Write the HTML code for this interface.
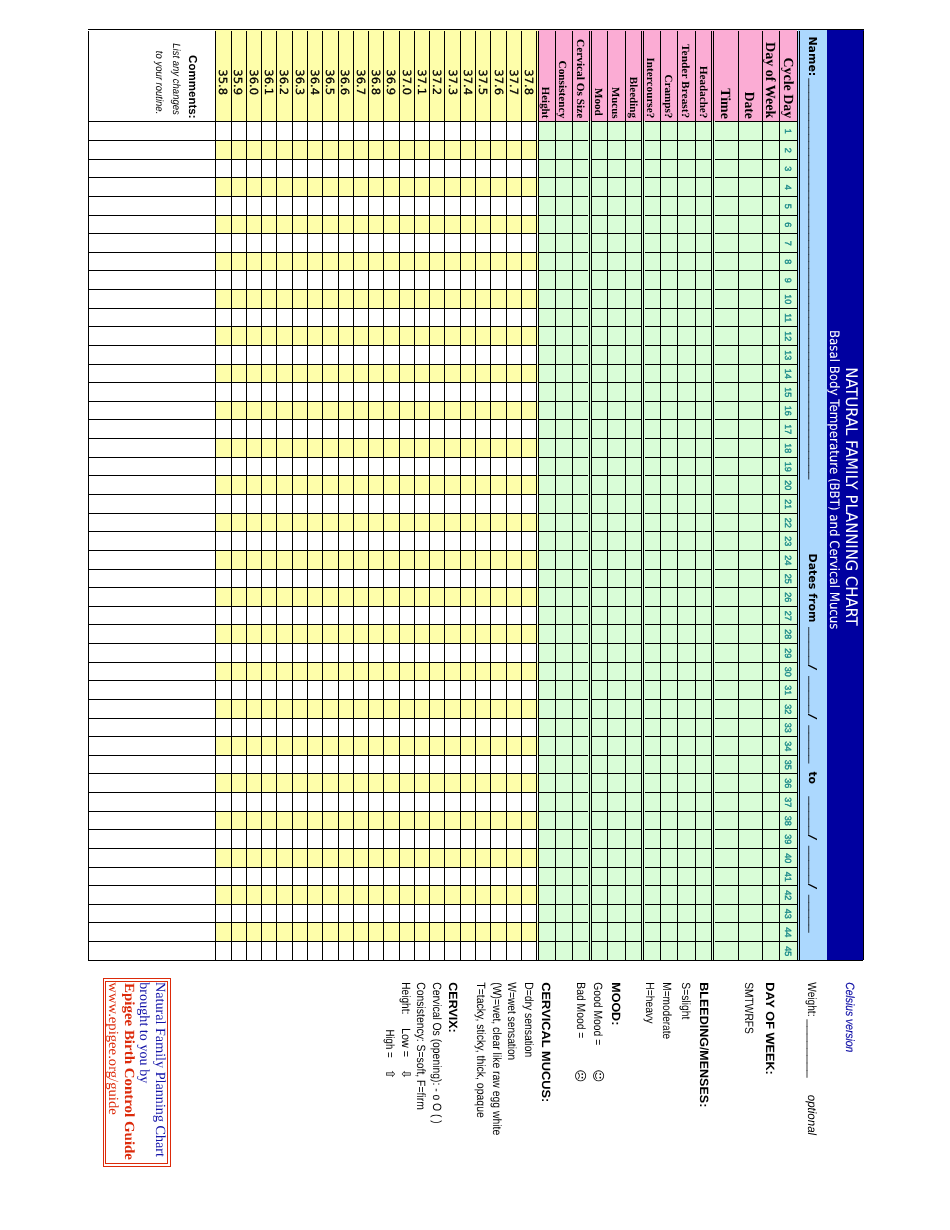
<!DOCTYPE html>
<html><head><meta charset="utf-8"><title>Natural Family Planning Chart</title>
<style>html,body{margin:0;padding:0;background:#fff}svg{display:block}text{white-space:pre}</style></head>
<body><svg width="950" height="1230" viewBox="0 0 950 1230" shape-rendering="crispEdges" text-rendering="geometricPrecision">
<rect x="827" y="29" width="37" height="931" fill="#0000a0"/>
<rect x="798" y="29" width="29" height="931" fill="#acd8fe"/>
<rect x="538" y="29" width="259" height="92" fill="#fbacd4"/>
<rect x="539" y="121" width="258" height="839" fill="#d9fdd7"/>
<rect x="215" y="29" width="323" height="92" fill="#fefeaa"/>
<rect x="215" y="140" width="323" height="19" fill="#fefeaa"/>
<rect x="215" y="177" width="323" height="19" fill="#fefeaa"/>
<rect x="215" y="215" width="323" height="18" fill="#fefeaa"/>
<rect x="215" y="252" width="323" height="18" fill="#fefeaa"/>
<rect x="215" y="289" width="323" height="19" fill="#fefeaa"/>
<rect x="215" y="326" width="323" height="19" fill="#fefeaa"/>
<rect x="215" y="364" width="323" height="18" fill="#fefeaa"/>
<rect x="215" y="401" width="323" height="18" fill="#fefeaa"/>
<rect x="215" y="438" width="323" height="19" fill="#fefeaa"/>
<rect x="215" y="475" width="323" height="19" fill="#fefeaa"/>
<rect x="215" y="513" width="323" height="18" fill="#fefeaa"/>
<rect x="215" y="550" width="323" height="19" fill="#fefeaa"/>
<rect x="215" y="587" width="323" height="19" fill="#fefeaa"/>
<rect x="215" y="624" width="323" height="19" fill="#fefeaa"/>
<rect x="215" y="662" width="323" height="18" fill="#fefeaa"/>
<rect x="215" y="699" width="323" height="19" fill="#fefeaa"/>
<rect x="215" y="736" width="323" height="19" fill="#fefeaa"/>
<rect x="215" y="773" width="323" height="19" fill="#fefeaa"/>
<rect x="215" y="811" width="323" height="18" fill="#fefeaa"/>
<rect x="215" y="848" width="323" height="19" fill="#fefeaa"/>
<rect x="215" y="885" width="323" height="19" fill="#fefeaa"/>
<rect x="215" y="922" width="323" height="19" fill="#fefeaa"/>
<rect x="88" y="31" width="1" height="929" fill="#000"/>
<rect x="215" y="31" width="1" height="929" fill="#000"/>
<rect x="231" y="31" width="1" height="929" fill="#000"/>
<rect x="246" y="31" width="1" height="929" fill="#000"/>
<rect x="261" y="31" width="1" height="929" fill="#000"/>
<rect x="276" y="31" width="1" height="929" fill="#000"/>
<rect x="292" y="31" width="1" height="929" fill="#000"/>
<rect x="307" y="31" width="1" height="929" fill="#000"/>
<rect x="322" y="31" width="1" height="929" fill="#000"/>
<rect x="338" y="31" width="1" height="929" fill="#000"/>
<rect x="353" y="31" width="1" height="929" fill="#000"/>
<rect x="368" y="31" width="1" height="929" fill="#000"/>
<rect x="383" y="31" width="1" height="929" fill="#000"/>
<rect x="399" y="31" width="1" height="929" fill="#000"/>
<rect x="414" y="31" width="1" height="929" fill="#000"/>
<rect x="429" y="31" width="1" height="929" fill="#000"/>
<rect x="444" y="31" width="1" height="929" fill="#000"/>
<rect x="460" y="31" width="1" height="929" fill="#000"/>
<rect x="475" y="31" width="1" height="929" fill="#000"/>
<rect x="490" y="31" width="1" height="929" fill="#000"/>
<rect x="506" y="31" width="1" height="929" fill="#000"/>
<rect x="521" y="31" width="1" height="929" fill="#000"/>
<rect x="555" y="31" width="1" height="929" fill="#000"/>
<rect x="572" y="31" width="1" height="929" fill="#000"/>
<rect x="607" y="31" width="1" height="929" fill="#000"/>
<rect x="625" y="31" width="1" height="929" fill="#000"/>
<rect x="660" y="31" width="1" height="929" fill="#000"/>
<rect x="677" y="31" width="1" height="929" fill="#000"/>
<rect x="695" y="31" width="1" height="929" fill="#000"/>
<rect x="738" y="31" width="1" height="929" fill="#000"/>
<rect x="762" y="31" width="1" height="929" fill="#000"/>
<rect x="779" y="31" width="1" height="929" fill="#000"/>
<rect x="536" y="31" width="1" height="929" fill="#000"/>
<rect x="538" y="31" width="1" height="929" fill="#000"/>
<rect x="589" y="31" width="1" height="929" fill="#000"/>
<rect x="591" y="31" width="1" height="929" fill="#000"/>
<rect x="641" y="31" width="1" height="929" fill="#000"/>
<rect x="643" y="31" width="1" height="929" fill="#000"/>
<rect x="711" y="31" width="1" height="929" fill="#000"/>
<rect x="713" y="31" width="1" height="929" fill="#000"/>
<rect x="797" y="31" width="1" height="929" fill="#000"/>
<rect x="799" y="31" width="1" height="929" fill="#000"/>
<rect x="88" y="121" width="448" height="1" fill="#000"/>
<rect x="539" y="121" width="49" height="1" fill="#000"/>
<rect x="592" y="121" width="49" height="1" fill="#000"/>
<rect x="645" y="121" width="66" height="1" fill="#000"/>
<rect x="715" y="121" width="82" height="1" fill="#000"/>
<rect x="88" y="140" width="448" height="1" fill="#000"/>
<rect x="539" y="140" width="49" height="1" fill="#000"/>
<rect x="592" y="140" width="49" height="1" fill="#000"/>
<rect x="645" y="140" width="66" height="1" fill="#000"/>
<rect x="715" y="140" width="82" height="1" fill="#000"/>
<rect x="88" y="159" width="448" height="1" fill="#000"/>
<rect x="539" y="159" width="49" height="1" fill="#000"/>
<rect x="592" y="159" width="49" height="1" fill="#000"/>
<rect x="645" y="159" width="66" height="1" fill="#000"/>
<rect x="715" y="159" width="82" height="1" fill="#000"/>
<rect x="88" y="177" width="448" height="1" fill="#000"/>
<rect x="539" y="177" width="49" height="1" fill="#000"/>
<rect x="592" y="177" width="49" height="1" fill="#000"/>
<rect x="645" y="177" width="66" height="1" fill="#000"/>
<rect x="715" y="177" width="82" height="1" fill="#000"/>
<rect x="88" y="196" width="448" height="1" fill="#000"/>
<rect x="539" y="196" width="49" height="1" fill="#000"/>
<rect x="592" y="196" width="49" height="1" fill="#000"/>
<rect x="645" y="196" width="66" height="1" fill="#000"/>
<rect x="715" y="196" width="82" height="1" fill="#000"/>
<rect x="88" y="215" width="448" height="1" fill="#000"/>
<rect x="539" y="215" width="49" height="1" fill="#000"/>
<rect x="592" y="215" width="49" height="1" fill="#000"/>
<rect x="645" y="215" width="66" height="1" fill="#000"/>
<rect x="715" y="215" width="82" height="1" fill="#000"/>
<rect x="88" y="233" width="448" height="1" fill="#000"/>
<rect x="539" y="233" width="49" height="1" fill="#000"/>
<rect x="592" y="233" width="49" height="1" fill="#000"/>
<rect x="645" y="233" width="66" height="1" fill="#000"/>
<rect x="715" y="233" width="82" height="1" fill="#000"/>
<rect x="88" y="252" width="448" height="1" fill="#000"/>
<rect x="539" y="252" width="49" height="1" fill="#000"/>
<rect x="592" y="252" width="49" height="1" fill="#000"/>
<rect x="645" y="252" width="66" height="1" fill="#000"/>
<rect x="715" y="252" width="82" height="1" fill="#000"/>
<rect x="88" y="270" width="448" height="1" fill="#000"/>
<rect x="539" y="270" width="49" height="1" fill="#000"/>
<rect x="592" y="270" width="49" height="1" fill="#000"/>
<rect x="645" y="270" width="66" height="1" fill="#000"/>
<rect x="715" y="270" width="82" height="1" fill="#000"/>
<rect x="88" y="289" width="448" height="1" fill="#000"/>
<rect x="539" y="289" width="49" height="1" fill="#000"/>
<rect x="592" y="289" width="49" height="1" fill="#000"/>
<rect x="645" y="289" width="66" height="1" fill="#000"/>
<rect x="715" y="289" width="82" height="1" fill="#000"/>
<rect x="88" y="308" width="448" height="1" fill="#000"/>
<rect x="539" y="308" width="49" height="1" fill="#000"/>
<rect x="592" y="308" width="49" height="1" fill="#000"/>
<rect x="645" y="308" width="66" height="1" fill="#000"/>
<rect x="715" y="308" width="82" height="1" fill="#000"/>
<rect x="88" y="326" width="448" height="1" fill="#000"/>
<rect x="539" y="326" width="49" height="1" fill="#000"/>
<rect x="592" y="326" width="49" height="1" fill="#000"/>
<rect x="645" y="326" width="66" height="1" fill="#000"/>
<rect x="715" y="326" width="82" height="1" fill="#000"/>
<rect x="88" y="345" width="448" height="1" fill="#000"/>
<rect x="539" y="345" width="49" height="1" fill="#000"/>
<rect x="592" y="345" width="49" height="1" fill="#000"/>
<rect x="645" y="345" width="66" height="1" fill="#000"/>
<rect x="715" y="345" width="82" height="1" fill="#000"/>
<rect x="88" y="364" width="448" height="1" fill="#000"/>
<rect x="539" y="364" width="49" height="1" fill="#000"/>
<rect x="592" y="364" width="49" height="1" fill="#000"/>
<rect x="645" y="364" width="66" height="1" fill="#000"/>
<rect x="715" y="364" width="82" height="1" fill="#000"/>
<rect x="88" y="382" width="448" height="1" fill="#000"/>
<rect x="539" y="382" width="49" height="1" fill="#000"/>
<rect x="592" y="382" width="49" height="1" fill="#000"/>
<rect x="645" y="382" width="66" height="1" fill="#000"/>
<rect x="715" y="382" width="82" height="1" fill="#000"/>
<rect x="88" y="401" width="448" height="1" fill="#000"/>
<rect x="539" y="401" width="49" height="1" fill="#000"/>
<rect x="592" y="401" width="49" height="1" fill="#000"/>
<rect x="645" y="401" width="66" height="1" fill="#000"/>
<rect x="715" y="401" width="82" height="1" fill="#000"/>
<rect x="88" y="419" width="448" height="1" fill="#000"/>
<rect x="539" y="419" width="49" height="1" fill="#000"/>
<rect x="592" y="419" width="49" height="1" fill="#000"/>
<rect x="645" y="419" width="66" height="1" fill="#000"/>
<rect x="715" y="419" width="82" height="1" fill="#000"/>
<rect x="88" y="438" width="448" height="1" fill="#000"/>
<rect x="539" y="438" width="49" height="1" fill="#000"/>
<rect x="592" y="438" width="49" height="1" fill="#000"/>
<rect x="645" y="438" width="66" height="1" fill="#000"/>
<rect x="715" y="438" width="82" height="1" fill="#000"/>
<rect x="88" y="457" width="448" height="1" fill="#000"/>
<rect x="539" y="457" width="49" height="1" fill="#000"/>
<rect x="592" y="457" width="49" height="1" fill="#000"/>
<rect x="645" y="457" width="66" height="1" fill="#000"/>
<rect x="715" y="457" width="82" height="1" fill="#000"/>
<rect x="88" y="475" width="448" height="1" fill="#000"/>
<rect x="539" y="475" width="49" height="1" fill="#000"/>
<rect x="592" y="475" width="49" height="1" fill="#000"/>
<rect x="645" y="475" width="66" height="1" fill="#000"/>
<rect x="715" y="475" width="82" height="1" fill="#000"/>
<rect x="88" y="494" width="448" height="1" fill="#000"/>
<rect x="539" y="494" width="49" height="1" fill="#000"/>
<rect x="592" y="494" width="49" height="1" fill="#000"/>
<rect x="645" y="494" width="66" height="1" fill="#000"/>
<rect x="715" y="494" width="82" height="1" fill="#000"/>
<rect x="88" y="513" width="448" height="1" fill="#000"/>
<rect x="539" y="513" width="49" height="1" fill="#000"/>
<rect x="592" y="513" width="49" height="1" fill="#000"/>
<rect x="645" y="513" width="66" height="1" fill="#000"/>
<rect x="715" y="513" width="82" height="1" fill="#000"/>
<rect x="88" y="531" width="448" height="1" fill="#000"/>
<rect x="539" y="531" width="49" height="1" fill="#000"/>
<rect x="592" y="531" width="49" height="1" fill="#000"/>
<rect x="645" y="531" width="66" height="1" fill="#000"/>
<rect x="715" y="531" width="82" height="1" fill="#000"/>
<rect x="88" y="550" width="448" height="1" fill="#000"/>
<rect x="539" y="550" width="49" height="1" fill="#000"/>
<rect x="592" y="550" width="49" height="1" fill="#000"/>
<rect x="645" y="550" width="66" height="1" fill="#000"/>
<rect x="715" y="550" width="82" height="1" fill="#000"/>
<rect x="88" y="569" width="448" height="1" fill="#000"/>
<rect x="539" y="569" width="49" height="1" fill="#000"/>
<rect x="592" y="569" width="49" height="1" fill="#000"/>
<rect x="645" y="569" width="66" height="1" fill="#000"/>
<rect x="715" y="569" width="82" height="1" fill="#000"/>
<rect x="88" y="587" width="448" height="1" fill="#000"/>
<rect x="539" y="587" width="49" height="1" fill="#000"/>
<rect x="592" y="587" width="49" height="1" fill="#000"/>
<rect x="645" y="587" width="66" height="1" fill="#000"/>
<rect x="715" y="587" width="82" height="1" fill="#000"/>
<rect x="88" y="606" width="448" height="1" fill="#000"/>
<rect x="539" y="606" width="49" height="1" fill="#000"/>
<rect x="592" y="606" width="49" height="1" fill="#000"/>
<rect x="645" y="606" width="66" height="1" fill="#000"/>
<rect x="715" y="606" width="82" height="1" fill="#000"/>
<rect x="88" y="624" width="448" height="1" fill="#000"/>
<rect x="539" y="624" width="49" height="1" fill="#000"/>
<rect x="592" y="624" width="49" height="1" fill="#000"/>
<rect x="645" y="624" width="66" height="1" fill="#000"/>
<rect x="715" y="624" width="82" height="1" fill="#000"/>
<rect x="88" y="643" width="448" height="1" fill="#000"/>
<rect x="539" y="643" width="49" height="1" fill="#000"/>
<rect x="592" y="643" width="49" height="1" fill="#000"/>
<rect x="645" y="643" width="66" height="1" fill="#000"/>
<rect x="715" y="643" width="82" height="1" fill="#000"/>
<rect x="88" y="662" width="448" height="1" fill="#000"/>
<rect x="539" y="662" width="49" height="1" fill="#000"/>
<rect x="592" y="662" width="49" height="1" fill="#000"/>
<rect x="645" y="662" width="66" height="1" fill="#000"/>
<rect x="715" y="662" width="82" height="1" fill="#000"/>
<rect x="88" y="680" width="448" height="1" fill="#000"/>
<rect x="539" y="680" width="49" height="1" fill="#000"/>
<rect x="592" y="680" width="49" height="1" fill="#000"/>
<rect x="645" y="680" width="66" height="1" fill="#000"/>
<rect x="715" y="680" width="82" height="1" fill="#000"/>
<rect x="88" y="699" width="448" height="1" fill="#000"/>
<rect x="539" y="699" width="49" height="1" fill="#000"/>
<rect x="592" y="699" width="49" height="1" fill="#000"/>
<rect x="645" y="699" width="66" height="1" fill="#000"/>
<rect x="715" y="699" width="82" height="1" fill="#000"/>
<rect x="88" y="718" width="448" height="1" fill="#000"/>
<rect x="539" y="718" width="49" height="1" fill="#000"/>
<rect x="592" y="718" width="49" height="1" fill="#000"/>
<rect x="645" y="718" width="66" height="1" fill="#000"/>
<rect x="715" y="718" width="82" height="1" fill="#000"/>
<rect x="88" y="736" width="448" height="1" fill="#000"/>
<rect x="539" y="736" width="49" height="1" fill="#000"/>
<rect x="592" y="736" width="49" height="1" fill="#000"/>
<rect x="645" y="736" width="66" height="1" fill="#000"/>
<rect x="715" y="736" width="82" height="1" fill="#000"/>
<rect x="88" y="755" width="448" height="1" fill="#000"/>
<rect x="539" y="755" width="49" height="1" fill="#000"/>
<rect x="592" y="755" width="49" height="1" fill="#000"/>
<rect x="645" y="755" width="66" height="1" fill="#000"/>
<rect x="715" y="755" width="82" height="1" fill="#000"/>
<rect x="88" y="773" width="448" height="1" fill="#000"/>
<rect x="539" y="773" width="49" height="1" fill="#000"/>
<rect x="592" y="773" width="49" height="1" fill="#000"/>
<rect x="645" y="773" width="66" height="1" fill="#000"/>
<rect x="715" y="773" width="82" height="1" fill="#000"/>
<rect x="88" y="792" width="448" height="1" fill="#000"/>
<rect x="539" y="792" width="49" height="1" fill="#000"/>
<rect x="592" y="792" width="49" height="1" fill="#000"/>
<rect x="645" y="792" width="66" height="1" fill="#000"/>
<rect x="715" y="792" width="82" height="1" fill="#000"/>
<rect x="88" y="811" width="448" height="1" fill="#000"/>
<rect x="539" y="811" width="49" height="1" fill="#000"/>
<rect x="592" y="811" width="49" height="1" fill="#000"/>
<rect x="645" y="811" width="66" height="1" fill="#000"/>
<rect x="715" y="811" width="82" height="1" fill="#000"/>
<rect x="88" y="829" width="448" height="1" fill="#000"/>
<rect x="539" y="829" width="49" height="1" fill="#000"/>
<rect x="592" y="829" width="49" height="1" fill="#000"/>
<rect x="645" y="829" width="66" height="1" fill="#000"/>
<rect x="715" y="829" width="82" height="1" fill="#000"/>
<rect x="88" y="848" width="448" height="1" fill="#000"/>
<rect x="539" y="848" width="49" height="1" fill="#000"/>
<rect x="592" y="848" width="49" height="1" fill="#000"/>
<rect x="645" y="848" width="66" height="1" fill="#000"/>
<rect x="715" y="848" width="82" height="1" fill="#000"/>
<rect x="88" y="867" width="448" height="1" fill="#000"/>
<rect x="539" y="867" width="49" height="1" fill="#000"/>
<rect x="592" y="867" width="49" height="1" fill="#000"/>
<rect x="645" y="867" width="66" height="1" fill="#000"/>
<rect x="715" y="867" width="82" height="1" fill="#000"/>
<rect x="88" y="885" width="448" height="1" fill="#000"/>
<rect x="539" y="885" width="49" height="1" fill="#000"/>
<rect x="592" y="885" width="49" height="1" fill="#000"/>
<rect x="645" y="885" width="66" height="1" fill="#000"/>
<rect x="715" y="885" width="82" height="1" fill="#000"/>
<rect x="88" y="904" width="448" height="1" fill="#000"/>
<rect x="539" y="904" width="49" height="1" fill="#000"/>
<rect x="592" y="904" width="49" height="1" fill="#000"/>
<rect x="645" y="904" width="66" height="1" fill="#000"/>
<rect x="715" y="904" width="82" height="1" fill="#000"/>
<rect x="88" y="922" width="448" height="1" fill="#000"/>
<rect x="539" y="922" width="49" height="1" fill="#000"/>
<rect x="592" y="922" width="49" height="1" fill="#000"/>
<rect x="645" y="922" width="66" height="1" fill="#000"/>
<rect x="715" y="922" width="82" height="1" fill="#000"/>
<rect x="88" y="941" width="448" height="1" fill="#000"/>
<rect x="539" y="941" width="49" height="1" fill="#000"/>
<rect x="592" y="941" width="49" height="1" fill="#000"/>
<rect x="645" y="941" width="66" height="1" fill="#000"/>
<rect x="715" y="941" width="82" height="1" fill="#000"/>
<rect x="88" y="960" width="448" height="1" fill="#000"/>
<rect x="539" y="960" width="49" height="1" fill="#000"/>
<rect x="592" y="960" width="49" height="1" fill="#000"/>
<rect x="645" y="960" width="66" height="1" fill="#000"/>
<rect x="715" y="960" width="82" height="1" fill="#000"/>
<rect x="88" y="29" width="776" height="1" fill="#000"/>
<rect x="88" y="960" width="775" height="1" fill="#000"/>
<rect x="863" y="31" width="1" height="929" fill="#000"/>
<text transform="translate(542.2,86.8) rotate(90)" font-family='"Liberation Serif", serif' font-size="11" font-weight="bold" fill="#000" textLength="31.5" lengthAdjust="spacingAndGlyphs">Height</text>
<text transform="translate(559,60.5) rotate(90)" font-family='"Liberation Serif", serif' font-size="11" font-weight="bold" fill="#000" textLength="57.8" lengthAdjust="spacingAndGlyphs">Consistency</text>
<text transform="translate(576.5,39) rotate(90)" font-family='"Liberation Serif", serif' font-size="11" font-weight="bold" fill="#000" textLength="79.3" lengthAdjust="spacingAndGlyphs">Cervical Os Size</text>
<text transform="translate(594.7,88) rotate(90)" font-family='"Liberation Serif", serif' font-size="11" font-weight="bold" fill="#000" textLength="27.8" lengthAdjust="spacingAndGlyphs">Mood</text>
<text transform="translate(612,87) rotate(90)" font-family='"Liberation Serif", serif' font-size="11" font-weight="bold" fill="#000" textLength="31.5" lengthAdjust="spacingAndGlyphs">Mucus</text>
<text transform="translate(629.7,76.8) rotate(90)" font-family='"Liberation Serif", serif' font-size="11" font-weight="bold" fill="#000" textLength="41.2" lengthAdjust="spacingAndGlyphs">Bleeding</text>
<text transform="translate(647.2,57.5) rotate(90)" font-family='"Liberation Serif", serif' font-size="11" font-weight="bold" fill="#000" textLength="60.8" lengthAdjust="spacingAndGlyphs">Intercourse?</text>
<text transform="translate(664.8,74.5) rotate(90)" font-family='"Liberation Serif", serif' font-size="11" font-weight="bold" fill="#000" textLength="43.8" lengthAdjust="spacingAndGlyphs">Cramps?</text>
<text transform="translate(682.2,44) rotate(90)" font-family='"Liberation Serif", serif' font-size="11" font-weight="bold" fill="#000" textLength="74.3" lengthAdjust="spacingAndGlyphs">Tender Breast?</text>
<text transform="translate(700,66) rotate(90)" font-family='"Liberation Serif", serif' font-size="11" font-weight="bold" fill="#000" textLength="52.3" lengthAdjust="spacingAndGlyphs">Headache?</text>
<text transform="translate(720.5,88.2) rotate(90)" font-family='"Liberation Serif", serif' font-size="14" font-weight="bold" fill="#000" textLength="30.6" lengthAdjust="spacingAndGlyphs">Time</text>
<text transform="translate(744.8,91.8) rotate(90)" font-family='"Liberation Serif", serif' font-size="14" font-weight="bold" fill="#000" textLength="27" lengthAdjust="spacingAndGlyphs">Date</text>
<text transform="translate(766.2,42) rotate(90)" font-family='"Liberation Serif", serif' font-size="14" font-weight="bold" fill="#000" textLength="76.3" lengthAdjust="spacingAndGlyphs">Day of Week</text>
<text transform="translate(784,57.5) rotate(90)" font-family='"Liberation Serif", serif' font-size="14" font-weight="bold" fill="#000" textLength="60.8" lengthAdjust="spacingAndGlyphs">Cycle Day</text>
<text transform="translate(785.3,131.3) rotate(90)" font-family='"Liberation Sans", sans-serif' font-size="9" fill="#178888" text-anchor="middle" stroke="#178888" stroke-width="0.35">1</text>
<text transform="translate(785.3,150.3) rotate(90)" font-family='"Liberation Sans", sans-serif' font-size="9" fill="#178888" text-anchor="middle" stroke="#178888" stroke-width="0.35">2</text>
<text transform="translate(785.3,168.8) rotate(90)" font-family='"Liberation Sans", sans-serif' font-size="9" fill="#178888" text-anchor="middle" stroke="#178888" stroke-width="0.35">3</text>
<text transform="translate(785.3,187.3) rotate(90)" font-family='"Liberation Sans", sans-serif' font-size="9" fill="#178888" text-anchor="middle" stroke="#178888" stroke-width="0.35">4</text>
<text transform="translate(785.3,206.3) rotate(90)" font-family='"Liberation Sans", sans-serif' font-size="9" fill="#178888" text-anchor="middle" stroke="#178888" stroke-width="0.35">5</text>
<text transform="translate(785.3,224.8) rotate(90)" font-family='"Liberation Sans", sans-serif' font-size="9" fill="#178888" text-anchor="middle" stroke="#178888" stroke-width="0.35">6</text>
<text transform="translate(785.3,243.3) rotate(90)" font-family='"Liberation Sans", sans-serif' font-size="9" fill="#178888" text-anchor="middle" stroke="#178888" stroke-width="0.35">7</text>
<text transform="translate(785.3,261.8) rotate(90)" font-family='"Liberation Sans", sans-serif' font-size="9" fill="#178888" text-anchor="middle" stroke="#178888" stroke-width="0.35">8</text>
<text transform="translate(785.3,280.3) rotate(90)" font-family='"Liberation Sans", sans-serif' font-size="9" fill="#178888" text-anchor="middle" stroke="#178888" stroke-width="0.35">9</text>
<text transform="translate(785.3,299.3) rotate(90)" font-family='"Liberation Sans", sans-serif' font-size="9" fill="#178888" text-anchor="middle" stroke="#178888" stroke-width="0.35">10</text>
<text transform="translate(785.3,317.8) rotate(90)" font-family='"Liberation Sans", sans-serif' font-size="9" fill="#178888" text-anchor="middle" stroke="#178888" stroke-width="0.35">11</text>
<text transform="translate(785.3,336.3) rotate(90)" font-family='"Liberation Sans", sans-serif' font-size="9" fill="#178888" text-anchor="middle" stroke="#178888" stroke-width="0.35">12</text>
<text transform="translate(785.3,355.3) rotate(90)" font-family='"Liberation Sans", sans-serif' font-size="9" fill="#178888" text-anchor="middle" stroke="#178888" stroke-width="0.35">13</text>
<text transform="translate(785.3,373.8) rotate(90)" font-family='"Liberation Sans", sans-serif' font-size="9" fill="#178888" text-anchor="middle" stroke="#178888" stroke-width="0.35">14</text>
<text transform="translate(785.3,392.3) rotate(90)" font-family='"Liberation Sans", sans-serif' font-size="9" fill="#178888" text-anchor="middle" stroke="#178888" stroke-width="0.35">15</text>
<text transform="translate(785.3,410.8) rotate(90)" font-family='"Liberation Sans", sans-serif' font-size="9" fill="#178888" text-anchor="middle" stroke="#178888" stroke-width="0.35">16</text>
<text transform="translate(785.3,429.3) rotate(90)" font-family='"Liberation Sans", sans-serif' font-size="9" fill="#178888" text-anchor="middle" stroke="#178888" stroke-width="0.35">17</text>
<text transform="translate(785.3,448.3) rotate(90)" font-family='"Liberation Sans", sans-serif' font-size="9" fill="#178888" text-anchor="middle" stroke="#178888" stroke-width="0.35">18</text>
<text transform="translate(785.3,466.8) rotate(90)" font-family='"Liberation Sans", sans-serif' font-size="9" fill="#178888" text-anchor="middle" stroke="#178888" stroke-width="0.35">19</text>
<text transform="translate(785.3,485.3) rotate(90)" font-family='"Liberation Sans", sans-serif' font-size="9" fill="#178888" text-anchor="middle" stroke="#178888" stroke-width="0.35">20</text>
<text transform="translate(785.3,504.3) rotate(90)" font-family='"Liberation Sans", sans-serif' font-size="9" fill="#178888" text-anchor="middle" stroke="#178888" stroke-width="0.35">21</text>
<text transform="translate(785.3,522.8) rotate(90)" font-family='"Liberation Sans", sans-serif' font-size="9" fill="#178888" text-anchor="middle" stroke="#178888" stroke-width="0.35">22</text>
<text transform="translate(785.3,541.3) rotate(90)" font-family='"Liberation Sans", sans-serif' font-size="9" fill="#178888" text-anchor="middle" stroke="#178888" stroke-width="0.35">23</text>
<text transform="translate(785.3,560.3) rotate(90)" font-family='"Liberation Sans", sans-serif' font-size="9" fill="#178888" text-anchor="middle" stroke="#178888" stroke-width="0.35">24</text>
<text transform="translate(785.3,578.8) rotate(90)" font-family='"Liberation Sans", sans-serif' font-size="9" fill="#178888" text-anchor="middle" stroke="#178888" stroke-width="0.35">25</text>
<text transform="translate(785.3,597.3) rotate(90)" font-family='"Liberation Sans", sans-serif' font-size="9" fill="#178888" text-anchor="middle" stroke="#178888" stroke-width="0.35">26</text>
<text transform="translate(785.3,615.8) rotate(90)" font-family='"Liberation Sans", sans-serif' font-size="9" fill="#178888" text-anchor="middle" stroke="#178888" stroke-width="0.35">27</text>
<text transform="translate(785.3,634.3) rotate(90)" font-family='"Liberation Sans", sans-serif' font-size="9" fill="#178888" text-anchor="middle" stroke="#178888" stroke-width="0.35">28</text>
<text transform="translate(785.3,653.3) rotate(90)" font-family='"Liberation Sans", sans-serif' font-size="9" fill="#178888" text-anchor="middle" stroke="#178888" stroke-width="0.35">29</text>
<text transform="translate(785.3,671.8) rotate(90)" font-family='"Liberation Sans", sans-serif' font-size="9" fill="#178888" text-anchor="middle" stroke="#178888" stroke-width="0.35">30</text>
<text transform="translate(785.3,690.3) rotate(90)" font-family='"Liberation Sans", sans-serif' font-size="9" fill="#178888" text-anchor="middle" stroke="#178888" stroke-width="0.35">31</text>
<text transform="translate(785.3,709.3) rotate(90)" font-family='"Liberation Sans", sans-serif' font-size="9" fill="#178888" text-anchor="middle" stroke="#178888" stroke-width="0.35">32</text>
<text transform="translate(785.3,727.8) rotate(90)" font-family='"Liberation Sans", sans-serif' font-size="9" fill="#178888" text-anchor="middle" stroke="#178888" stroke-width="0.35">33</text>
<text transform="translate(785.3,746.3) rotate(90)" font-family='"Liberation Sans", sans-serif' font-size="9" fill="#178888" text-anchor="middle" stroke="#178888" stroke-width="0.35">34</text>
<text transform="translate(785.3,764.8) rotate(90)" font-family='"Liberation Sans", sans-serif' font-size="9" fill="#178888" text-anchor="middle" stroke="#178888" stroke-width="0.35">35</text>
<text transform="translate(785.3,783.3) rotate(90)" font-family='"Liberation Sans", sans-serif' font-size="9" fill="#178888" text-anchor="middle" stroke="#178888" stroke-width="0.35">36</text>
<text transform="translate(785.3,802.3) rotate(90)" font-family='"Liberation Sans", sans-serif' font-size="9" fill="#178888" text-anchor="middle" stroke="#178888" stroke-width="0.35">37</text>
<text transform="translate(785.3,820.8) rotate(90)" font-family='"Liberation Sans", sans-serif' font-size="9" fill="#178888" text-anchor="middle" stroke="#178888" stroke-width="0.35">38</text>
<text transform="translate(785.3,839.3) rotate(90)" font-family='"Liberation Sans", sans-serif' font-size="9" fill="#178888" text-anchor="middle" stroke="#178888" stroke-width="0.35">39</text>
<text transform="translate(785.3,858.3) rotate(90)" font-family='"Liberation Sans", sans-serif' font-size="9" fill="#178888" text-anchor="middle" stroke="#178888" stroke-width="0.35">40</text>
<text transform="translate(785.3,876.8) rotate(90)" font-family='"Liberation Sans", sans-serif' font-size="9" fill="#178888" text-anchor="middle" stroke="#178888" stroke-width="0.35">41</text>
<text transform="translate(785.3,895.3) rotate(90)" font-family='"Liberation Sans", sans-serif' font-size="9" fill="#178888" text-anchor="middle" stroke="#178888" stroke-width="0.35">42</text>
<text transform="translate(785.3,913.8) rotate(90)" font-family='"Liberation Sans", sans-serif' font-size="9" fill="#178888" text-anchor="middle" stroke="#178888" stroke-width="0.35">43</text>
<text transform="translate(785.3,932.3) rotate(90)" font-family='"Liberation Sans", sans-serif' font-size="9" fill="#178888" text-anchor="middle" stroke="#178888" stroke-width="0.35">44</text>
<text transform="translate(785.3,951.3) rotate(90)" font-family='"Liberation Sans", sans-serif' font-size="9" fill="#178888" text-anchor="middle" stroke="#178888" stroke-width="0.35">45</text>
<text transform="translate(219,69.3) rotate(90)" font-family='"DejaVu Sans", "Liberation Sans", sans-serif' font-size="11.2" fill="#000" textLength="25.8" lengthAdjust="spacingAndGlyphs" stroke="#000" stroke-width="0.3">35.8</text>
<text transform="translate(234.31,69.3) rotate(90)" font-family='"DejaVu Sans", "Liberation Sans", sans-serif' font-size="11.2" fill="#000" textLength="25.8" lengthAdjust="spacingAndGlyphs" stroke="#000" stroke-width="0.3">35.9</text>
<text transform="translate(249.62,69.3) rotate(90)" font-family='"DejaVu Sans", "Liberation Sans", sans-serif' font-size="11.2" fill="#000" textLength="25.8" lengthAdjust="spacingAndGlyphs" stroke="#000" stroke-width="0.3">36.0</text>
<text transform="translate(264.93,69.3) rotate(90)" font-family='"DejaVu Sans", "Liberation Sans", sans-serif' font-size="11.2" fill="#000" textLength="25.8" lengthAdjust="spacingAndGlyphs" stroke="#000" stroke-width="0.3">36.1</text>
<text transform="translate(280.24,69.3) rotate(90)" font-family='"DejaVu Sans", "Liberation Sans", sans-serif' font-size="11.2" fill="#000" textLength="25.8" lengthAdjust="spacingAndGlyphs" stroke="#000" stroke-width="0.3">36.2</text>
<text transform="translate(295.55,69.3) rotate(90)" font-family='"DejaVu Sans", "Liberation Sans", sans-serif' font-size="11.2" fill="#000" textLength="25.8" lengthAdjust="spacingAndGlyphs" stroke="#000" stroke-width="0.3">36.3</text>
<text transform="translate(310.86,69.3) rotate(90)" font-family='"DejaVu Sans", "Liberation Sans", sans-serif' font-size="11.2" fill="#000" textLength="25.8" lengthAdjust="spacingAndGlyphs" stroke="#000" stroke-width="0.3">36.4</text>
<text transform="translate(326.17,69.3) rotate(90)" font-family='"DejaVu Sans", "Liberation Sans", sans-serif' font-size="11.2" fill="#000" textLength="25.8" lengthAdjust="spacingAndGlyphs" stroke="#000" stroke-width="0.3">36.5</text>
<text transform="translate(341.48,69.3) rotate(90)" font-family='"DejaVu Sans", "Liberation Sans", sans-serif' font-size="11.2" fill="#000" textLength="25.8" lengthAdjust="spacingAndGlyphs" stroke="#000" stroke-width="0.3">36.6</text>
<text transform="translate(356.79,69.3) rotate(90)" font-family='"DejaVu Sans", "Liberation Sans", sans-serif' font-size="11.2" fill="#000" textLength="25.8" lengthAdjust="spacingAndGlyphs" stroke="#000" stroke-width="0.3">36.7</text>
<text transform="translate(372.1,69.3) rotate(90)" font-family='"DejaVu Sans", "Liberation Sans", sans-serif' font-size="11.2" fill="#000" textLength="25.8" lengthAdjust="spacingAndGlyphs" stroke="#000" stroke-width="0.3">36.8</text>
<text transform="translate(387.41,69.3) rotate(90)" font-family='"DejaVu Sans", "Liberation Sans", sans-serif' font-size="11.2" fill="#000" textLength="25.8" lengthAdjust="spacingAndGlyphs" stroke="#000" stroke-width="0.3">36.9</text>
<text transform="translate(402.72,69.3) rotate(90)" font-family='"DejaVu Sans", "Liberation Sans", sans-serif' font-size="11.2" fill="#000" textLength="25.8" lengthAdjust="spacingAndGlyphs" stroke="#000" stroke-width="0.3">37.0</text>
<text transform="translate(418.03,69.3) rotate(90)" font-family='"DejaVu Sans", "Liberation Sans", sans-serif' font-size="11.2" fill="#000" textLength="25.8" lengthAdjust="spacingAndGlyphs" stroke="#000" stroke-width="0.3">37.1</text>
<text transform="translate(433.34,69.3) rotate(90)" font-family='"DejaVu Sans", "Liberation Sans", sans-serif' font-size="11.2" fill="#000" textLength="25.8" lengthAdjust="spacingAndGlyphs" stroke="#000" stroke-width="0.3">37.2</text>
<text transform="translate(448.65,69.3) rotate(90)" font-family='"DejaVu Sans", "Liberation Sans", sans-serif' font-size="11.2" fill="#000" textLength="25.8" lengthAdjust="spacingAndGlyphs" stroke="#000" stroke-width="0.3">37.3</text>
<text transform="translate(463.96,69.3) rotate(90)" font-family='"DejaVu Sans", "Liberation Sans", sans-serif' font-size="11.2" fill="#000" textLength="25.8" lengthAdjust="spacingAndGlyphs" stroke="#000" stroke-width="0.3">37.4</text>
<text transform="translate(479.27,69.3) rotate(90)" font-family='"DejaVu Sans", "Liberation Sans", sans-serif' font-size="11.2" fill="#000" textLength="25.8" lengthAdjust="spacingAndGlyphs" stroke="#000" stroke-width="0.3">37.5</text>
<text transform="translate(494.58,69.3) rotate(90)" font-family='"DejaVu Sans", "Liberation Sans", sans-serif' font-size="11.2" fill="#000" textLength="25.8" lengthAdjust="spacingAndGlyphs" stroke="#000" stroke-width="0.3">37.6</text>
<text transform="translate(509.89,69.3) rotate(90)" font-family='"DejaVu Sans", "Liberation Sans", sans-serif' font-size="11.2" fill="#000" textLength="25.8" lengthAdjust="spacingAndGlyphs" stroke="#000" stroke-width="0.3">37.7</text>
<text transform="translate(525.2,69.3) rotate(90)" font-family='"DejaVu Sans", "Liberation Sans", sans-serif' font-size="11.2" fill="#000" textLength="25.8" lengthAdjust="spacingAndGlyphs" stroke="#000" stroke-width="0.3">37.8</text>
<text transform="translate(846,367.3) rotate(90)" font-family='"DejaVu Sans", "Liberation Sans", sans-serif' font-size="16" fill="#fff" textLength="258.5" lengthAdjust="spacingAndGlyphs">NATURAL FAMILY PLANNING CHART</text>
<text transform="translate(830,330) rotate(90)" font-family='"DejaVu Sans", "Liberation Sans", sans-serif' font-size="13" fill="#fff" textLength="299.5" lengthAdjust="spacingAndGlyphs">Basal Body Temperature (BBT) and Cervical Mucus</text>
<text transform="translate(808.6,36.4) rotate(90)" font-family='"DejaVu Sans", "Liberation Sans", sans-serif' font-size="11" font-weight="bold" fill="#000" textLength="39.8" lengthAdjust="spacingAndGlyphs">Name:</text>
<text transform="translate(808.8,553.5) rotate(90)" font-family='"DejaVu Sans", "Liberation Sans", sans-serif' font-size="11" font-weight="bold" fill="#000" textLength="69" lengthAdjust="spacingAndGlyphs">Dates from</text>
<text transform="translate(808.8,771.5) rotate(90)" font-family='"DejaVu Sans", "Liberation Sans", sans-serif' font-size="11" font-weight="bold" fill="#000" textLength="12.5" lengthAdjust="spacingAndGlyphs">to</text>
<text transform="translate(811.1,78.5) rotate(90)" font-family='"DejaVu Sans", "Liberation Sans", sans-serif' font-size="11" fill="#000" textLength="400.8" lengthAdjust="spacingAndGlyphs">_________________________________________________________</text>
<text transform="translate(811.1,627.3) rotate(90)" font-family='"DejaVu Sans", "Liberation Sans", sans-serif' font-size="11" fill="#000" textLength="36.8" lengthAdjust="spacingAndGlyphs">_____</text>
<text transform="translate(811.1,676.3) rotate(90)" font-family='"DejaVu Sans", "Liberation Sans", sans-serif' font-size="11" fill="#000" textLength="36.9" lengthAdjust="spacingAndGlyphs">_____</text>
<text transform="translate(811.1,725.6) rotate(90)" font-family='"DejaVu Sans", "Liberation Sans", sans-serif' font-size="11" fill="#000" textLength="37.6" lengthAdjust="spacingAndGlyphs">_____</text>
<text transform="translate(811.1,796.6) rotate(90)" font-family='"DejaVu Sans", "Liberation Sans", sans-serif' font-size="11" fill="#000" textLength="37.4" lengthAdjust="spacingAndGlyphs">_____</text>
<text transform="translate(811.1,846) rotate(90)" font-family='"DejaVu Sans", "Liberation Sans", sans-serif' font-size="11" fill="#000" textLength="37" lengthAdjust="spacingAndGlyphs">_____</text>
<text transform="translate(811.1,895) rotate(90)" font-family='"DejaVu Sans", "Liberation Sans", sans-serif' font-size="11" fill="#000" textLength="37.4" lengthAdjust="spacingAndGlyphs">_____</text>
<text transform="translate(808.6,664.3) rotate(90)" font-family='"DejaVu Sans", "Liberation Sans", sans-serif' font-size="11" fill="#000" textLength="6" lengthAdjust="spacingAndGlyphs">/</text>
<text transform="translate(808.6,713.4) rotate(90)" font-family='"DejaVu Sans", "Liberation Sans", sans-serif' font-size="11" fill="#000" textLength="6" lengthAdjust="spacingAndGlyphs">/</text>
<text transform="translate(808.6,834.2) rotate(90)" font-family='"DejaVu Sans", "Liberation Sans", sans-serif' font-size="11" fill="#000" textLength="6" lengthAdjust="spacingAndGlyphs">/</text>
<text transform="translate(808.6,883.2) rotate(90)" font-family='"DejaVu Sans", "Liberation Sans", sans-serif' font-size="11" fill="#000" textLength="6" lengthAdjust="spacingAndGlyphs">/</text>
<text transform="translate(845.6,982.3) rotate(90)" font-family='"Liberation Sans", sans-serif' font-size="12" font-style="italic" fill="#0c0ca4" textLength="70" lengthAdjust="spacingAndGlyphs" stroke="#0c0ca4" stroke-width="0.15">Celsius version</text>
<text transform="translate(807.9,982.3) rotate(90)" font-family='"Liberation Sans", sans-serif' font-size="12" fill="#000" textLength="37" lengthAdjust="spacingAndGlyphs">Weight: </text>
<text transform="translate(808.7,1019.5) rotate(90)" font-family='"Liberation Sans", sans-serif' font-size="12" fill="#000" textLength="58" lengthAdjust="spacingAndGlyphs">________</text>
<text transform="translate(807.9,1094.7) rotate(90)" font-family='"Liberation Sans", sans-serif' font-size="12" font-style="italic" fill="#000" textLength="40.5" lengthAdjust="spacingAndGlyphs">optional</text>
<text transform="translate(765.7,982.3) rotate(90)" font-family='"Liberation Sans", sans-serif' font-size="12" font-weight="bold" fill="#000" textLength="92.5" lengthAdjust="spacingAndGlyphs">DAY OF WEEK:</text>
<text transform="translate(744.7,982.3) rotate(90)" font-family='"Liberation Sans", sans-serif' font-size="12" fill="#000" textLength="51.5" lengthAdjust="spacingAndGlyphs">SMTWRFS</text>
<text transform="translate(699.6,982.3) rotate(90)" font-family='"Liberation Sans", sans-serif' font-size="12" font-weight="bold" fill="#000" textLength="125" lengthAdjust="spacingAndGlyphs">BLEEDING/MENSES:</text>
<text transform="translate(681.5,982.3) rotate(90)" font-family='"Liberation Sans", sans-serif' font-size="12" fill="#000" textLength="37" lengthAdjust="spacingAndGlyphs">S=slight</text>
<text transform="translate(662.5,982.3) rotate(90)" font-family='"Liberation Sans", sans-serif' font-size="12" fill="#000" textLength="56.8" lengthAdjust="spacingAndGlyphs">M=moderate</text>
<text transform="translate(646,982.3) rotate(90)" font-family='"Liberation Sans", sans-serif' font-size="12" fill="#000" textLength="41" lengthAdjust="spacingAndGlyphs">H=heavy</text>
<text transform="translate(612,982.3) rotate(90)" font-family='"Liberation Sans", sans-serif' font-size="12" font-weight="bold" fill="#000" textLength="43" lengthAdjust="spacingAndGlyphs">MOOD:</text>
<text transform="translate(594.3,982.3) rotate(90)" font-family='"Liberation Sans", sans-serif' font-size="12" fill="#000" textLength="63" lengthAdjust="spacingAndGlyphs">Good Mood =</text>
<text transform="translate(576.5,982.3) rotate(90)" font-family='"Liberation Sans", sans-serif' font-size="12" fill="#000" textLength="56" lengthAdjust="spacingAndGlyphs">Bad Mood =</text>
<text transform="translate(594.2,1069.3) rotate(90)" font-family='"DejaVu Sans", "Liberation Sans", sans-serif' font-size="12.6" fill="#000">☺</text>
<text transform="translate(576.3,1069.3) rotate(90)" font-family='"DejaVu Sans", "Liberation Sans", sans-serif' font-size="12.6" fill="#000">☹</text>
<text transform="translate(541.8,982.3) rotate(90)" font-family='"Liberation Sans", sans-serif' font-size="12" font-weight="bold" fill="#000" textLength="120" lengthAdjust="spacingAndGlyphs">CERVICAL MUCUS:</text>
<text transform="translate(525,982.3) rotate(90)" font-family='"Liberation Sans", sans-serif' font-size="12" fill="#000" textLength="75" lengthAdjust="spacingAndGlyphs">D=dry sensation</text>
<text transform="translate(507.5,982.3) rotate(90)" font-family='"Liberation Sans", sans-serif' font-size="12" fill="#000" textLength="78" lengthAdjust="spacingAndGlyphs">W=wet sensation</text>
<text transform="translate(492.5,982.3) rotate(90)" font-family='"Liberation Sans", sans-serif' font-size="12" fill="#000" textLength="153" lengthAdjust="spacingAndGlyphs">(W)=wet, clear like raw egg white</text>
<text transform="translate(477,982.3) rotate(90)" font-family='"Liberation Sans", sans-serif' font-size="12" fill="#000" textLength="135.5" lengthAdjust="spacingAndGlyphs">T=tacky, sticky, thick, opaque</text>
<text transform="translate(448.5,982.3) rotate(90)" font-family='"Liberation Sans", sans-serif' font-size="12" font-weight="bold" fill="#000" textLength="50.5" lengthAdjust="spacingAndGlyphs">CERVIX:</text>
<text transform="translate(433,982.3) rotate(90)" font-family='"Liberation Sans", sans-serif' font-size="12" fill="#000" textLength="141.5" lengthAdjust="spacingAndGlyphs">Cervical Os (opening): - o O ( )</text>
<text transform="translate(416.5,982.3) rotate(90)" font-family='"Liberation Sans", sans-serif' font-size="12" fill="#000" textLength="127.5" lengthAdjust="spacingAndGlyphs">Consistency: S=soft, F=firm</text>
<text transform="translate(402,982.3) rotate(90)" font-family='"Liberation Sans", sans-serif' font-size="12" fill="#000" textLength="32" lengthAdjust="spacingAndGlyphs">Height:</text>
<text transform="translate(402,1028) rotate(90)" font-family='"Liberation Sans", sans-serif' font-size="12" fill="#000" textLength="29" lengthAdjust="spacingAndGlyphs">Low =</text>
<text transform="translate(386,1029.5) rotate(90)" font-family='"Liberation Sans", sans-serif' font-size="12" fill="#000" textLength="28" lengthAdjust="spacingAndGlyphs">High =</text>
<text transform="translate(401.5,1068.5) rotate(90)" font-family='"DejaVu Sans", "Liberation Sans", sans-serif' font-size="12" fill="#000" textLength="11" lengthAdjust="spacingAndGlyphs">⇩</text>
<text transform="translate(385.5,1068.5) rotate(90)" font-family='"DejaVu Sans", "Liberation Sans", sans-serif' font-size="12" fill="#000" textLength="11" lengthAdjust="spacingAndGlyphs">⇧</text>
<text transform="translate(188.6,118.6) rotate(90)" font-family='"Liberation Sans", sans-serif' font-size="11.6" font-weight="bold" fill="#000" text-anchor="end" textLength="63.5" lengthAdjust="spacingAndGlyphs">Comments:</text>
<text transform="translate(172.5,114.8) rotate(90)" font-family='"Liberation Sans", sans-serif' font-size="10.5" font-style="italic" fill="#000" text-anchor="end" textLength="71.5" lengthAdjust="spacingAndGlyphs">List any changes</text>
<text transform="translate(156,114.3) rotate(90)" font-family='"Liberation Sans", sans-serif' font-size="10.5" font-style="italic" fill="#000" text-anchor="end" textLength="63.5" lengthAdjust="spacingAndGlyphs">to your routine.</text>
<rect x="103.5" y="978.5" width="67" height="188" fill="none" stroke="#dc2a0a" stroke-width="1"/>
<rect x="105.5" y="981.5" width="62" height="182" fill="none" stroke="#dc2a0a" stroke-width="1"/>
<text transform="translate(156,982) rotate(90)" font-family='"Liberation Serif", serif' font-size="14" fill="#1414a8" textLength="175" lengthAdjust="spacingAndGlyphs">Natural Family Planning Chart</text>
<text transform="translate(140.3,982.3) rotate(90)" font-family='"Liberation Serif", serif' font-size="14" fill="#1414a8" textLength="101" lengthAdjust="spacingAndGlyphs">brought to you by</text>
<text transform="translate(124.7,983) rotate(90)" font-family='"Liberation Serif", serif' font-size="14" font-weight="bold" fill="#dc2a0a" textLength="177" lengthAdjust="spacingAndGlyphs">Epigee Birth Control Guide</text>
<text transform="translate(109.3,982.3) rotate(90)" font-family='"Liberation Serif", serif' font-size="14" fill="#dc2a0a" textLength="132.5" lengthAdjust="spacingAndGlyphs">www.epigee.org/guide</text>
</svg></body></html>
